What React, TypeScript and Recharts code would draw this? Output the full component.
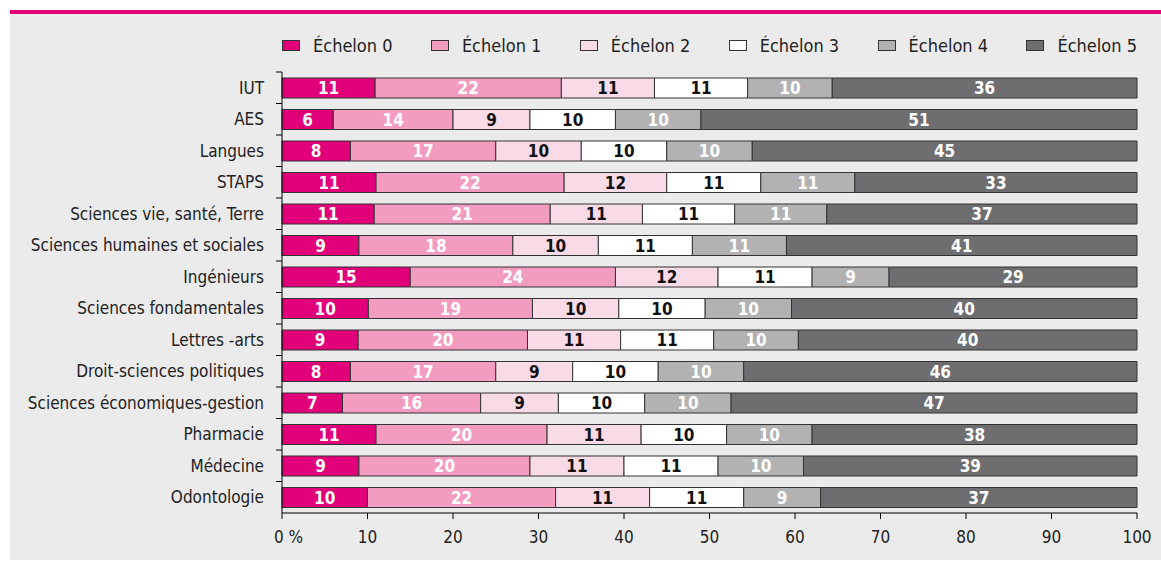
import React from "react";
import { BarChart, Bar, XAxis, YAxis, LabelList } from "recharts";

const categories = [
  "IUT",
  "AES",
  "Langues",
  "STAPS",
  "Sciences vie, santé, Terre",
  "Sciences humaines et sociales",
  "Ingénieurs",
  "Sciences fondamentales",
  "Lettres -arts",
  "Droit-sciences politiques",
  "Sciences économiques-gestion",
  "Pharmacie",
  "Médecine",
  "Odontologie"
];

const echelon0 = [11, 6, 8, 11, 11, 9, 15, 10, 9, 8, 7, 11, 9, 10];
const echelon1 = [22, 14, 17, 22, 21, 18, 24, 19, 20, 17, 16, 20, 20, 22];
const echelon2 = [11, 9, 10, 12, 11, 10, 12, 10, 11, 9, 9, 11, 11, 11];
const echelon3 = [11, 10, 10, 11, 11, 11, 11, 10, 11, 10, 10, 10, 11, 11];
const echelon4 = [10, 10, 10, 11, 11, 11, 9, 10, 10, 10, 10, 10, 10, 9];
const echelon5 = [36, 51, 45, 33, 37, 41, 29, 40, 40, 46, 47, 38, 39, 37];

const xTicks = [0, 0.1, 0.2, 0.3, 0.4, 0.5, 0.6, 0.7, 0.8, 0.9, 1];

const series = [
  { key: "e0", name: "Échelon 0", color: "#e2007a", label: "#ffffff" },
  { key: "e1", name: "Échelon 1", color: "#f29cbf", label: "#ffffff" },
  { key: "e2", name: "Échelon 2", color: "#f9dbe7", label: "#111111" },
  { key: "e3", name: "Échelon 3", color: "#ffffff", label: "#111111" },
  { key: "e4", name: "Échelon 4", color: "#b2b2b3", label: "#ffffff" },
  { key: "e5", name: "Échelon 5", color: "#6e6e70", label: "#ffffff" }
];

const data = categories.map((name, i) => ({
  name,
  e0: echelon0[i],
  e1: echelon1[i],
  e2: echelon2[i],
  e3: echelon3[i],
  e4: echelon4[i],
  e5: echelon5[i]
}));

const FONT = "'Liberation Sans Narrow', 'DejaVu Sans Condensed', 'Roboto', sans-serif";
const W = 1151;
const H = 546;
const TOP = 58;
const BOTTOM = 47;
const Y_WIDTH = 272;
const BAND = (H - TOP - BOTTOM) / categories.length;
const TICK_MARGIN = 18;

const CategoryTick = (props: any) => {
  const { x, y, payload } = props;
  const axisX = x + TICK_MARGIN;
  const top = y - BAND / 2;
  return (
    <g>
      <text
        x={x}
        y={y}
        textAnchor="end"
        dominantBaseline="central"
        fontSize={17}
        fill="#222"
        fontFamily={FONT}
      >
        {payload.value}
      </text>
      <line x1={axisX - 6} x2={axisX} y1={top} y2={top} stroke="#000" />
    </g>
  );
};

const PercentTick = (props: any) => {
  const { x, y, payload } = props;
  const v = payload.value;
  return (
    <text
      x={v === 0 ? x - 8 : x}
      y={y}
      dy={18}
      textAnchor={v === 0 ? "start" : "middle"}
      fontSize={17}
      fill="#222"
      fontFamily={FONT}
    >
      {v === 0 ? "0 %" : String(Math.round(v * 100))}
    </text>
  );
};

export default function App() {
  return (
    <div style={{ position: "relative", width: 1161, height: 561 }}>
      <style>{"body{margin:0}"}</style>
      <div
        style={{
          position: "absolute",
          left: 10,
          top: 10,
          width: W,
          height: H,
          borderTop: "4px solid #e2007a",
          background: "#ebebeb",
          fontFamily: FONT
        }}
      >
        <div
          style={{
            position: "absolute",
            left: Y_WIDTH,
            right: 24,
            top: 21,
            display: "flex",
            justifyContent: "space-between",
            fontSize: 18,
            color: "#222"
          }}
        >
          {series.map((s) => (
            <div key={s.key} style={{ display: "flex", alignItems: "center" }}>
              <span
                style={{
                  display: "inline-block",
                  width: 16,
                  height: 9,
                  background: s.color,
                  border: "1px solid #333",
                  marginRight: 13
                }}
              />
              <span>{s.name}</span>
            </div>
          ))}
        </div>
        <BarChart
          width={W}
          height={H}
          data={data}
          layout="vertical"
          stackOffset="expand"
          margin={{ top: TOP, right: 24, left: 0, bottom: 17 }}
        >
          <XAxis
            type="number"
            domain={[0, 1]}
            ticks={xTicks}
            height={30}
            tickSize={6}
            tickMargin={6}
            axisLine={{ stroke: "#000" }}
            tickLine={{ stroke: "#000" }}
            tick={<PercentTick />}
            interval={0}
          />
          <YAxis
            type="category"
            dataKey="name"
            width={Y_WIDTH}
            tickSize={0}
            tickMargin={TICK_MARGIN}
            axisLine={{ stroke: "#000" }}
            tickLine={false}
            tick={<CategoryTick />}
            interval={0}
          />
          {series.map((s) => (
            <Bar
              key={s.key}
              dataKey={s.key}
              stackId="a"
              fill={s.color}
              stroke="#333"
              strokeWidth={1}
              barSize={20}
              isAnimationActive={false}
            >
              <LabelList
                dataKey={s.key}
                position="center"
                fill={s.label}
                fontSize={17}
                fontWeight="bold"
                fontFamily={FONT}
              />
            </Bar>
          ))}
        </BarChart>
      </div>
    </div>
  );
}
